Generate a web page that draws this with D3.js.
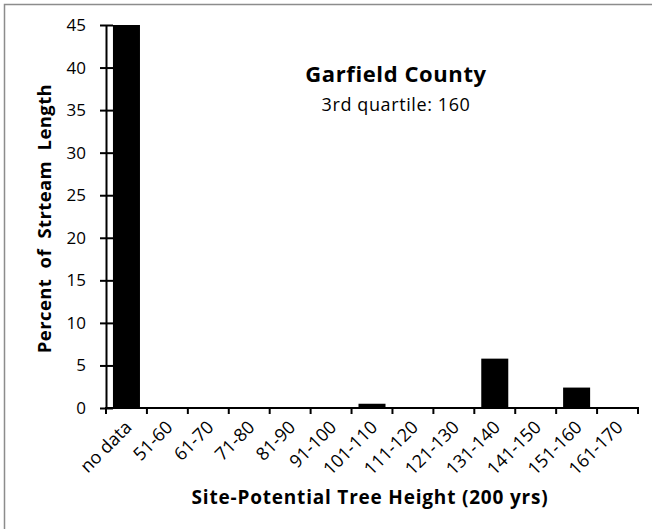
<!DOCTYPE html>
<html lang="en">
<head>
<meta charset="utf-8">
<title>Garfield County</title>
<script src="https://cdn.jsdelivr.net/npm/d3@7"></script>
<style>
  body { margin: 0; background: #fff; }
  text { font-family: "Open Sans", "Noto Sans", sans-serif; fill: #000; }
</style>
</head>
<body>
<script>
// chart data
var categories = ["no data", "51-60", "61-70", "71-80", "81-90", "91-100", "101-110",
                  "111-120", "121-130", "131-140", "141-150", "151-160", "161-170"];
var percents = [45, 0, 0, 0, 0, 0, 0.5, 0, 0, 5.8, 0, 2.4, 0];
var yTicks = [0, 5, 10, 15, 20, 25, 30, 35, 40, 45];

var w = 652, h = 529;
var plotLeft = 106, plotRight = 638, plotTop = 25, plotBottom = 408;

var svg = d3.select("body").append("svg")
    .attr("width", w)
    .attr("height", h);

// frame
svg.append("rect")
    .attr("x", 4.5).attr("y", 4.5)
    .attr("width", w + 10).attr("height", h + 10)
    .attr("fill", "none")
    .attr("stroke", "#8c8c8c")
    .attr("stroke-width", 1.5);

var x = d3.scaleBand()
    .domain(categories)
    .range([plotLeft, plotRight])
    .paddingInner(0.34)
    .paddingOuter(0.17);

var y = d3.scaleLinear()
    .domain([0, 45])
    .range([plotBottom, plotTop]);

// bars
svg.selectAll("rect.bar")
    .data(percents)
    .enter()
    .append("rect")
    .attr("class", "bar")
    .attr("x", function(d, i) { return x(categories[i]); })
    .attr("y", function(d) { return y(d); })
    .attr("width", x.bandwidth())
    .attr("height", function(d) { return plotBottom - y(d); })
    .attr("fill", "#000");

// y axis
var yAxis = svg.append("g")
    .attr("transform", "translate(" + plotLeft + ",0)")
    .call(d3.axisLeft(y).tickValues(yTicks).tickSize(6).tickSizeOuter(0));
yAxis.select(".domain").attr("stroke-width", 2);
yAxis.selectAll(".tick line").attr("x2", 7).attr("x1", -6).attr("stroke-width", 2);
yAxis.selectAll(".tick text")
    .attr("x", -20)
    .style("font-size", "17px");

// x axis (ticks at category boundaries)
var step = (plotRight - plotLeft) / categories.length;
var xAxis = svg.append("g")
    .attr("transform", "translate(0," + plotBottom + ")");
xAxis.append("line")
    .attr("x1", plotLeft - 1).attr("x2", plotRight + 1)
    .attr("stroke", "#000").attr("stroke-width", 2);
xAxis.selectAll("line.tick")
    .data(d3.range(categories.length + 1))
    .enter()
    .append("line")
    .attr("class", "tick")
    .attr("x1", function(i) { return plotLeft + i * step; })
    .attr("x2", function(i) { return plotLeft + i * step; })
    .attr("y1", 0).attr("y2", 6)
    .attr("stroke", "#000").attr("stroke-width", 2);

xAxis.selectAll("text")
    .data(categories)
    .enter()
    .append("text")
    .attr("transform", function(d) {
        return "translate(" + (x(d) + x.bandwidth() / 2 + 2) + ",16) rotate(-45)";
    })
    .attr("text-anchor", "end")
    .attr("dy", "0.35em")
    .style("font-size", "18px")
    .text(function(d) { return d; });

// axis titles
svg.append("text")
    .attr("transform", "translate(51," + ((plotTop + plotBottom) / 2 + 2) + ") rotate(-90)")
    .attr("text-anchor", "middle")
    .style("font-size", "18.5px")
    .style("font-weight", "bold")
    .style("letter-spacing", "0.4px")
    .style("white-space", "pre")
    .attr("xml:space", "preserve")
    .text("Percent  of  Strteam  Length");

svg.append("text")
    .attr("x", 370)
    .attr("y", 504)
    .attr("text-anchor", "middle")
    .style("font-size", "19px")
    .style("font-weight", "bold")
    .style("letter-spacing", "0.8px")
    .text("Site-Potential Tree Height (200 yrs)");

// title block
svg.append("text")
    .attr("x", 396)
    .attr("y", 82)
    .attr("text-anchor", "middle")
    .style("font-size", "22px")
    .style("font-weight", "bold")
    .style("letter-spacing", "0.6px")
    .text("Garfield County");

svg.append("text")
    .attr("x", 396)
    .attr("y", 111)
    .attr("text-anchor", "middle")
    .style("font-size", "18px")
    .style("letter-spacing", "0.6px")
    .text("3rd quartile: 160");
</script>
</body>
</html>
